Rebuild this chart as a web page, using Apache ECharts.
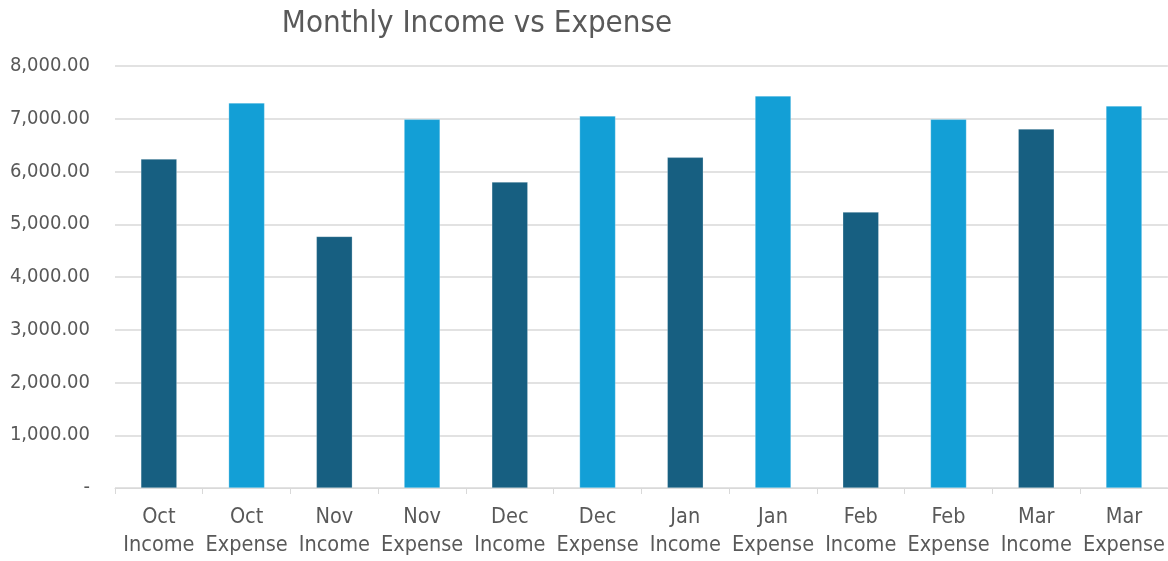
<!DOCTYPE html>
<html lang="en">
<head>
    <meta charset="UTF-8">
    <title>Monthly Income vs Expense</title>
    <style>
        html, body { margin: 0; padding: 0; background: #fff; }
        #main { width: 1168px; height: 561px; }
    </style>
</head>
<body>
<div id="main"></div>
<script src="https://cdn.jsdelivr.net/npm/echarts@6/dist/echarts.min.js"></script>
<script>
    // categories: month + type, alternating Income / Expense
    var months = ['Oct', 'Oct', 'Nov', 'Nov', 'Dec', 'Dec', 'Jan', 'Jan', 'Feb', 'Feb', 'Mar', 'Mar'];
    var kinds = ['Income', 'Expense', 'Income', 'Expense', 'Income', 'Expense', 'Income', 'Expense', 'Income', 'Expense', 'Income', 'Expense'];
    var amounts = [6237, 7300, 4769, 6989, 5801, 7053, 6268, 7433, 5231, 6989, 6806, 7243];
    var yTicks = [0, 1000, 2000, 3000, 4000, 5000, 6000, 7000, 8000];

    var incomeColor = '#175F81';
    var expenseColor = '#139FD6';
    var font = '"Liberation Sans Narrow", "DejaVu Sans Condensed", sans-serif';

    var labels = [];
    for (var i = 0; i < months.length; i++) {
        labels.push(months[i] + '\n' + kinds[i]);
    }
    var barData = [];
    for (var j = 0; j < amounts.length; j++) {
        barData.push({
            value: amounts[j],
            itemStyle: { color: kinds[j] == 'Income' ? incomeColor : expenseColor }
        });
    }

    function fmt(v) {
        if (v === 0) return '-';
        var s = v.toFixed(2).split('.');
        s[0] = s[0].replace(/\B(?=(\d{3})+(?!\d))/g, ',');
        return s.join('.');
    }

    var myChart = echarts.init(document.getElementById('main'));
    var option = {
        backgroundColor: '#fff',
        animation: false,
        title: {
            text: 'Monthly Income vs Expense',
            left: 472,
            textAlign: 'center',
            top: 3,
            textStyle: {
                color: '#595959',
                fontFamily: font,
                fontWeight: 'normal',
                fontSize: 31
            }
        },
        grid: {
            left: 115,
            right: 0,
            top: 66,
            bottom: 73
        },
        xAxis: {
            type: 'category',
            data: labels,
            axisLine: { lineStyle: { color: '#d9d9d9', width: 1 } },
            axisTick: { show: true, length: 6, lineStyle: { color: '#d9d9d9' } },
            axisLabel: {
                color: '#595959',
                fontFamily: font,
                fontSize: 21.5,
                lineHeight: 28,
                margin: 15,
                interval: 0
            }
        },
        yAxis: {
            type: 'value',
            min: yTicks[0],
            max: yTicks[yTicks.length - 1],
            interval: 1000,
            axisLine: { show: false },
            axisTick: { show: false },
            splitLine: { lineStyle: { color: '#d9d9d9', width: 1.5 } },
            axisLabel: {
                color: '#595959',
                fontFamily: font,
                fontSize: 20,
                margin: 25,
                formatter: fmt
            }
        },
        series: [{
            type: 'bar',
            data: barData,
            barWidth: '41%',
            itemStyle: { borderColor: 'rgba(255,255,255,0.5)', borderWidth: 0.5 }
        }]
    };
    myChart.setOption(option);
</script>
</body>
</html>
